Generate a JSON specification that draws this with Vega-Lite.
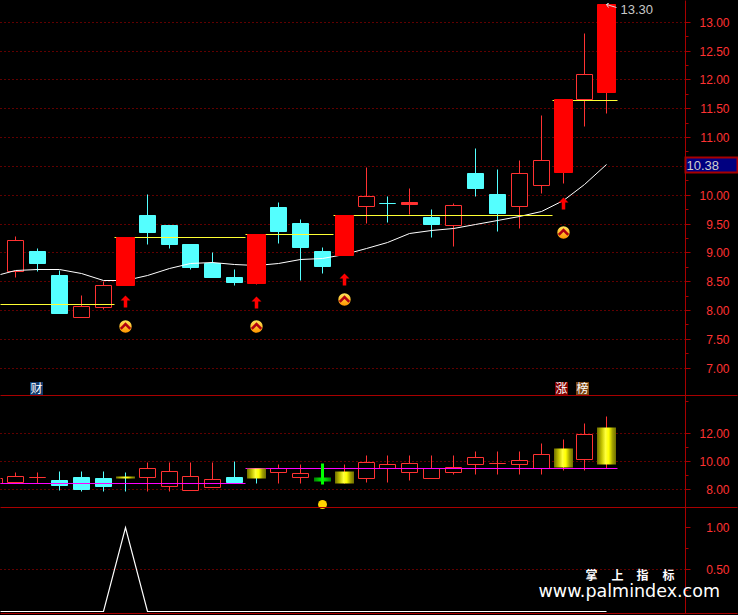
{"$schema":"https://vega.github.io/schema/vega-lite/v6.json","background":"#000000","padding":{"left":-2.5,"top":0.5,"right":0,"bottom":1.5},"spacing":0,"bounds":"flush","config":{"view":{"stroke":null},"axis":{"translate":0}},
"datasets":{
"main":[
{"i":0,"high":9.28,"low":8.57,"top":9.21,"bot":8.68,"kind":"hollow","dir":"up"},
{"i":1,"high":9.07,"low":8.68,"top":9.02,"bot":8.82,"kind":"cyan","dir":"down"},
{"i":2,"high":8.69,"low":7.95,"top":8.61,"bot":7.95,"kind":"cyan","dir":"down"},
{"i":3,"high":8.26,"low":7.88,"top":8.07,"bot":7.88,"kind":"hollow","dir":"up"},
{"i":4,"high":8.5,"low":8.02,"top":8.43,"bot":8.06,"kind":"hollow","dir":"up"},
{"i":5,"high":9.27,"low":8.43,"top":9.27,"bot":8.43,"kind":"solid","dir":"up"},
{"i":6,"high":10.01,"low":9.15,"top":9.65,"bot":9.35,"kind":"cyan","dir":"down"},
{"i":7,"high":9.47,"low":9.08,"top":9.47,"bot":9.15,"kind":"cyan","dir":"down"},
{"i":8,"high":9.15,"low":8.71,"top":9.15,"bot":8.75,"kind":"cyan","dir":"down"},
{"i":9,"high":9.01,"low":8.57,"top":8.82,"bot":8.57,"kind":"cyan","dir":"down"},
{"i":10,"high":8.71,"low":8.43,"top":8.57,"bot":8.49,"kind":"cyan","dir":"down"},
{"i":11,"high":9.32,"low":8.45,"top":9.32,"bot":8.47,"kind":"solid","dir":"up"},
{"i":12,"high":9.87,"low":9.16,"top":9.79,"bot":9.37,"kind":"cyan","dir":"down"},
{"i":13,"high":9.58,"low":8.52,"top":9.51,"bot":9.09,"kind":"cyan","dir":"down"},
{"i":14,"high":9.09,"low":8.64,"top":9.02,"bot":8.76,"kind":"cyan","dir":"down"},
{"i":15,"high":9.65,"low":8.95,"top":9.65,"bot":8.95,"kind":"solid","dir":"up"},
{"i":16,"high":10.48,"low":9.51,"top":9.97,"bot":9.81,"kind":"hollow","dir":"up"},
{"i":17,"high":9.98,"low":9.53,"top":9.85,"bot":9.85,"kind":"cyan","dir":"down"},
{"i":18,"high":10.12,"low":9.67,"top":9.87,"bot":9.84,"kind":"thin","dir":"up"},
{"i":19,"high":9.75,"low":9.27,"top":9.61,"bot":9.49,"kind":"cyan","dir":"down"},
{"i":20,"high":9.86,"low":9.11,"top":9.83,"bot":9.48,"kind":"hollow","dir":"up"},
{"i":21,"high":10.81,"low":9.98,"top":10.38,"bot":10.12,"kind":"cyan","dir":"down"},
{"i":22,"high":10.45,"low":9.37,"top":10.01,"bot":9.68,"kind":"cyan","dir":"down"},
{"i":23,"high":10.6,"low":9.42,"top":10.37,"bot":9.81,"kind":"hollow","dir":"up"},
{"i":24,"high":11.38,"low":10.03,"top":10.6,"bot":10.17,"kind":"hollow","dir":"up"},
{"i":25,"high":11.66,"low":10.2,"top":11.66,"bot":10.39,"kind":"solid","dir":"up"},
{"i":26,"high":12.8,"low":11.19,"top":12.09,"bot":11.66,"kind":"hollow","dir":"up"},
{"i":27,"high":13.3,"low":11.42,"top":13.3,"bot":11.78,"kind":"solid","dir":"up"}],
"ma":[{"i":-0.72,"v":8.63},{"i":0,"v":8.69},{"i":1,"v":8.71},{"i":2,"v":8.72},{"i":3,"v":8.65},{"i":4,"v":8.52},{"i":5,"v":8.52},{"i":6,"v":8.6},{"i":7,"v":8.73},{"i":8,"v":8.81},{"i":9,"v":8.83},{"i":10,"v":8.79},{"i":11,"v":8.78},{"i":12,"v":8.81},{"i":13,"v":8.88},{"i":14,"v":8.91},{"i":15,"v":8.97},{"i":16,"v":9.07},{"i":17,"v":9.18},{"i":18,"v":9.33},{"i":19,"v":9.39},{"i":20,"v":9.43},{"i":21,"v":9.49},{"i":22,"v":9.56},{"i":23,"v":9.63},{"i":24,"v":9.72},{"i":25,"v":9.91},{"i":26,"v":10.18},{"i":27,"v":10.54}],
"levels":[{"a":-0.72,"b":4.5,"v":8.1},{"a":4.5,"b":10.5,"v":9.26},{"a":10.5,"b":14.5,"v":9.31},{"a":14.5,"b":24.5,"v":9.65},{"a":24.5,"b":27.5,"v":11.65}],
"signals":[{"i":5,"arrow":8.16,"ball":7.72},{"i":11,"arrow":8.14,"ball":7.72},{"i":15,"arrow":8.54,"ball":8.19},{"i":25,"arrow":9.86,"ball":9.35}],
"badges":[{"i":0.968,"p":6.657,"label":"财","tag":"a"},{"i":24.95,"p":6.657,"label":"涨","tag":"b"},{"i":25.91,"p":6.657,"label":"榜","tag":"c"}],
"pointer":[{"n":1,"i":27.43,"p":13.25},{"n":2,"i":26.97,"p":13.3},{"n":3,"i":27.1,"p":13.324},{"n":4,"i":26.97,"p":13.3},{"n":5,"i":27.08,"p":13.255}],
"vol":[
{"i":0,"high":9.24,"low":8.45,"top":8.95,"bot":8.52,"kind":"hollow","dir":"up"},
{"i":1,"high":9.24,"low":8.45,"top":8.86,"bot":8.86,"kind":"hollow","dir":"up"},
{"i":2,"high":9.31,"low":7.95,"top":8.67,"bot":8.31,"kind":"cyan","dir":"down"},
{"i":3,"high":9.31,"low":7.88,"top":8.88,"bot":8.02,"kind":"cyan","dir":"down"},
{"i":4,"high":9.31,"low":7.88,"top":8.81,"bot":8.24,"kind":"cyan","dir":"down"},
{"i":5,"high":9.24,"low":7.88,"top":8.95,"bot":8.81,"kind":"gold","dir":"down"},
{"i":6,"high":9.95,"low":7.88,"top":9.52,"bot":8.88,"kind":"hollow","dir":"up"},
{"i":7,"high":9.95,"low":7.88,"top":9.31,"bot":8.24,"kind":"hollow","dir":"up"},
{"i":8,"high":9.95,"low":7.95,"top":8.95,"bot":7.95,"kind":"hollow","dir":"up"},
{"i":9,"high":9.95,"low":8.17,"top":8.74,"bot":8.17,"kind":"hollow","dir":"up"},
{"i":10,"high":10.02,"low":8.45,"top":8.88,"bot":8.52,"kind":"cyan","dir":"down"},
{"i":11,"high":9.52,"low":8.45,"top":9.52,"bot":8.81,"kind":"gold","dir":"down"},
{"i":12,"high":9.81,"low":8.45,"top":9.52,"bot":9.24,"kind":"hollow","dir":"up"},
{"i":13,"high":9.81,"low":8.45,"top":9.17,"bot":8.88,"kind":"hollow","dir":"up"},
{"i":14,"high":9.88,"low":8.38,"top":8.88,"bot":8.6,"kind":"green","dir":"flat"},
{"i":15,"high":9.81,"low":8.45,"top":9.31,"bot":8.45,"kind":"gold","dir":"up"},
{"i":16,"high":10.45,"low":8.52,"top":9.95,"bot":8.83,"kind":"hollow","dir":"up"},
{"i":17,"high":10.45,"low":8.52,"top":9.81,"bot":9.52,"kind":"hollow","dir":"up"},
{"i":18,"high":10.45,"low":8.67,"top":9.88,"bot":9.26,"kind":"hollow","dir":"up"},
{"i":19,"high":10.45,"low":8.81,"top":9.5,"bot":8.83,"kind":"hollow","dir":"up"},
{"i":20,"high":10.45,"low":9.1,"top":9.6,"bot":9.26,"kind":"hollow","dir":"up"},
{"i":21,"high":10.74,"low":9.1,"top":10.31,"bot":9.83,"kind":"hollow","dir":"up"},
{"i":22,"high":10.74,"low":9.1,"top":9.86,"bot":9.86,"kind":"hollow","dir":"up"},
{"i":23,"high":10.74,"low":9.1,"top":10.1,"bot":9.83,"kind":"hollow","dir":"up"},
{"i":24,"high":11.31,"low":9.1,"top":10.52,"bot":9.5,"kind":"hollow","dir":"up"},
{"i":25,"high":11.6,"low":9.4,"top":10.95,"bot":9.6,"kind":"gold","dir":"up"},
{"i":26,"high":12.74,"low":9.4,"top":11.95,"bot":10.19,"kind":"hollow","dir":"up"},
{"i":27,"high":13.24,"low":9.52,"top":12.45,"bot":9.81,"kind":"gold","dir":"up"}],
"stub":[{"a":-0.72,"b":-0.62,"v":8.81},{"a":-0.72,"b":-0.62,"v":8.45}],
"mag":[{"a":-0.72,"b":10.5,"v":8.43},{"a":10.5,"b":27.5,"v":9.5}],
"osc":[{"i":-0.72,"v":0},{"i":0,"v":0},{"i":1,"v":0},{"i":2,"v":0},{"i":3,"v":0},{"i":4,"v":0},{"i":5,"v":1},{"i":6,"v":0},{"i":7,"v":0},{"i":8,"v":0},{"i":9,"v":0},{"i":10,"v":0},{"i":11,"v":0},{"i":12,"v":0},{"i":13,"v":0},{"i":14,"v":0},{"i":15,"v":0},{"i":16,"v":0},{"i":17,"v":0},{"i":18,"v":0},{"i":19,"v":0},{"i":20,"v":0},{"i":21,"v":0},{"i":22,"v":0},{"i":23,"v":0},{"i":24,"v":0},{"i":25,"v":0},{"i":26,"v":0},{"i":27,"v":0}]
},
"vconcat":[
{"width":686,"height":395,"layer":[
{"data":{"name":"main"},"mark":{"type":"rule","strokeWidth":1},"encoding":{"x":{"field":"i","type":"quantitative","axis":null,"scale":{"domain":[-0.745,30.595],"nice":false,"zero":false,"round":true,"padding":0}},"y":{"field":"high","type":"quantitative","scale":{"domain":[6.527,13.376],"nice":false,"zero":false,"round":true},"axis":{"orient":"right","title":null,"tickCount":100,"values":[7,7.25,7.5,7.75,8,8.25,8.5,8.75,9,9.25,9.5,9.75,10,10.25,10.5,10.75,11,11.25,11.5,11.75,12,12.25,12.5,12.75,13],"grid":true,"gridColor":"#c00000","gridDash":[1,3],"gridOpacity":{"condition":{"test":"datum.value*2%1==0","value":1},"value":0},"tickColor":"#a80000","tickSize":{"condition":{"test":"datum.value*2%1==0","value":5},"value":3},"domainColor":"#a80000","labelColor":"#ff3232","labelFont":"Liberation Sans","labelFontSize":12,"labelAlign":"right","labelPadding":39,"labelOverlap":false,"labelBound":false,"labelFlush":false,"labelExpr":"datum.value*2%1==0&&datum.value!=10.5?format(datum.value,'.2f'):''","minExtent":52,"maxExtent":52}},"y2":{"field":"low"},"color":{"field":"dir","type":"nominal","legend":null,"scale":{"domain":["up","down"],"range":["#ff3232","#54ffff"]}}}},
{"data":{"name":"main"},"transform":[{"filter":"datum.kind==='hollow'"}],"mark":{"type":"bar","orient":"vertical","size":16,"fill":"#000000","stroke":"#ff3232","strokeWidth":1},"encoding":{"x":{"field":"i","type":"quantitative"},"y":{"field":"top","type":"quantitative"},"y2":{"field":"bot"}}},
{"data":{"name":"main"},"transform":[{"filter":"datum.kind==='thin'"}],"mark":{"type":"bar","orient":"vertical","size":16,"fill":"#ff3232","stroke":"#ff3232","strokeWidth":1},"encoding":{"x":{"field":"i","type":"quantitative"},"y":{"field":"top","type":"quantitative"},"y2":{"field":"bot"}}},
{"data":{"name":"main"},"transform":[{"filter":"datum.kind==='cyan'"}],"mark":{"type":"bar","orient":"vertical","size":16,"fill":"#54ffff","stroke":"#54ffff","strokeWidth":1},"encoding":{"x":{"field":"i","type":"quantitative"},"y":{"field":"top","type":"quantitative"},"y2":{"field":"bot"}}},
{"data":{"name":"ma"},"mark":{"type":"line","color":"#ffffff","strokeWidth":1},"encoding":{"x":{"field":"i","type":"quantitative"},"y":{"field":"v","type":"quantitative"}}},
{"data":{"name":"levels"},"mark":{"type":"rule","color":"#ffff33","strokeWidth":1},"encoding":{"x":{"field":"a","type":"quantitative"},"x2":{"field":"b"},"y":{"field":"v","type":"quantitative"}}},
{"data":{"name":"main"},"transform":[{"filter":"datum.kind==='solid'"}],"mark":{"type":"bar","orient":"vertical","size":18,"fill":"#ff0000","stroke":"#ff0000","strokeWidth":1},"encoding":{"x":{"field":"i","type":"quantitative"},"y":{"field":"top","type":"quantitative"},"y2":{"field":"bot"}}},
{"data":{"name":"signals"},"mark":{"type":"point","filled":true,"fill":"#ff0000","opacity":1,"shape":"M0,-1.2L1,-0.2L0.35,-0.2L0.35,1.2L-0.35,1.2L-0.35,-0.2L-1,-0.2Z","size":100},"encoding":{"x":{"field":"i","type":"quantitative"},"y":{"field":"arrow","type":"quantitative"}}},
{"data":{"name":"signals"},"mark":{"type":"point","filled":true,"opacity":1,"shape":"circle","size":154,"fill":{"gradient":"linear","x1":0,"y1":0,"x2":0,"y2":1,"stops":[{"offset":0,"color":"#ffe45a"},{"offset":1,"color":"#ff9600"}]}},"encoding":{"x":{"field":"i","type":"quantitative"},"y":{"field":"ball","type":"quantitative"}}},
{"data":{"name":"signals"},"mark":{"type":"point","filled":false,"opacity":1,"shape":"M-1,0.5L0,-0.5L1,0.5","size":90,"stroke":"#b00010","strokeWidth":2.5},"encoding":{"x":{"field":"i","type":"quantitative"},"y":{"field":"ball","type":"quantitative"}}},
{"data":{"name":"pointer"},"mark":{"type":"line","color":"#d8d8d8","strokeWidth":1},"encoding":{"x":{"field":"i","type":"quantitative"},"y":{"field":"p","type":"quantitative"},"order":{"field":"n"}}},
{"data":{"values":[{"i":27,"p":13.3,"t":"13.30"}]},"mark":{"type":"text","align":"left","baseline":"middle","dx":14,"dy":5,"color":"#c8c8c8","font":"Liberation Sans","fontSize":13},"encoding":{"x":{"field":"i","type":"quantitative"},"y":{"field":"p","type":"quantitative"},"text":{"field":"t"}}},
{"data":{"values":[{"a":30.595,"b":32.97,"lo":10.4,"hi":10.654}]},"mark":{"type":"rect","fill":"#000080","stroke":"#a80000","strokeWidth":2},"encoding":{"x":{"field":"a","type":"quantitative"},"x2":{"field":"b"},"y":{"field":"lo","type":"quantitative"},"y2":{"field":"hi"}}},
{"data":{"values":[{"i":30.64,"p":10.515,"t":"10.38"}]},"mark":{"type":"text","align":"left","baseline":"middle","color":"#d0d0d0","font":"Liberation Sans","fontSize":13},"encoding":{"x":{"field":"i","type":"quantitative"},"y":{"field":"p","type":"quantitative"},"text":{"field":"t"}}},
{"data":{"name":"badges"},"mark":{"type":"point","filled":true,"opacity":1,"shape":"square","size":169},"encoding":{"x":{"field":"i","type":"quantitative"},"y":{"field":"p","type":"quantitative"},"color":{"field":"tag","type":"nominal","legend":null,"scale":{"domain":["a","b","c"],"range":["#103a6c","#800000","#7a4410"]}}}},
{"data":{"name":"badges"},"mark":{"type":"text","align":"center","baseline":"middle","color":"#ffffff","font":"Noto Sans CJK SC","fontSize":12},"encoding":{"x":{"field":"i","type":"quantitative"},"y":{"field":"p","type":"quantitative"},"text":{"field":"label"}}},
{"data":{"values":[{"a":-0.72,"b":32.97,"v":6.527}]},"mark":{"type":"rule","color":"#a80000","strokeWidth":1},"encoding":{"x":{"field":"a","type":"quantitative"},"x2":{"field":"b"},"y":{"field":"v","type":"quantitative"}}}
],"resolve":{"scale":{"color":"independent"}}},
{"width":686,"height":112,"layer":[
{"data":{"name":"vol"},"transform":[{"filter":"datum.kind!=='green'"}],"mark":{"type":"rule","strokeWidth":1},"encoding":{"x":{"field":"i","type":"quantitative","axis":null,"scale":{"domain":[-0.745,30.595],"nice":false,"zero":false,"round":true,"padding":0}},"y":{"field":"high","type":"quantitative","scale":{"domain":[6.736,14.736],"nice":false,"zero":false,"round":true},"axis":{"orient":"right","title":null,"tickCount":100,"values":[8,9,10,11,12,14.33],"grid":true,"gridColor":"#c00000","gridDash":[1,3],"gridOpacity":{"condition":{"test":"datum.value%2==0","value":1},"value":0},"tickColor":"#a80000","tickSize":{"condition":{"test":"datum.value%2==0","value":5},"value":3},"domainColor":"#a80000","labelColor":"#ff3232","labelFont":"Liberation Sans","labelFontSize":12,"labelAlign":"right","labelPadding":39,"labelOverlap":false,"labelBound":false,"labelFlush":false,"labelExpr":"datum.value%2==0?format(datum.value,'.2f'):''","minExtent":52,"maxExtent":52}},"y2":{"field":"low"},"color":{"field":"dir","type":"nominal","legend":null,"scale":{"domain":["up","down"],"range":["#ff3232","#54ffff"]}}}},
{"data":{"name":"stub"},"mark":{"type":"rule","strokeWidth":1,"color":"#ff3232"},"encoding":{"x":{"field":"a","type":"quantitative"},"x2":{"field":"b"},"y":{"field":"v","type":"quantitative"}}},
{"data":{"values":[{"a":-0.62,"lo":8.45,"hi":8.81}]},"mark":{"type":"rule","strokeWidth":1,"color":"#ff3232"},"encoding":{"x":{"field":"a","type":"quantitative"},"y":{"field":"lo","type":"quantitative"},"y2":{"field":"hi"}}},
{"data":{"name":"vol"},"transform":[{"filter":"datum.kind==='hollow'"}],"mark":{"type":"bar","orient":"vertical","size":16,"fill":"#000000","stroke":"#ff3232","strokeWidth":1},"encoding":{"x":{"field":"i","type":"quantitative"},"y":{"field":"top","type":"quantitative"},"y2":{"field":"bot"}}},
{"data":{"name":"vol"},"transform":[{"filter":"datum.kind==='cyan'"}],"mark":{"type":"bar","orient":"vertical","size":16,"fill":"#54ffff","stroke":"#54ffff","strokeWidth":1},"encoding":{"x":{"field":"i","type":"quantitative"},"y":{"field":"top","type":"quantitative"},"y2":{"field":"bot"}}},
{"data":{"name":"mag"},"mark":{"type":"rule","color":"#ff00ff","strokeWidth":1},"encoding":{"x":{"field":"a","type":"quantitative"},"x2":{"field":"b"},"y":{"field":"v","type":"quantitative"}}},
{"data":{"name":"vol"},"transform":[{"filter":"datum.kind==='gold'"}],"mark":{"type":"bar","orient":"vertical","size":19,"fill":{"gradient":"linear","x1":0,"y1":0,"x2":1,"y2":0,"stops":[{"offset":0,"color":"#6e6e00"},{"offset":0.25,"color":"#c4c400"},{"offset":0.45,"color":"#ffff3a"},{"offset":0.62,"color":"#ffff00"},{"offset":0.82,"color":"#a0a000"},{"offset":1,"color":"#6e6e00"}]}},"encoding":{"x":{"field":"i","type":"quantitative"},"y":{"field":"top","type":"quantitative"},"y2":{"field":"bot"}}},
{"data":{"name":"vol"},"transform":[{"filter":"datum.kind==='green'"}],"mark":{"type":"rule","strokeWidth":3,"color":"#00ff00"},"encoding":{"x":{"field":"i","type":"quantitative"},"y":{"field":"high","type":"quantitative"},"y2":{"field":"low"}}},
{"data":{"name":"vol"},"transform":[{"filter":"datum.kind==='green'"}],"mark":{"type":"bar","orient":"vertical","size":17,"fill":{"gradient":"linear","x1":0,"y1":0,"x2":1,"y2":0,"stops":[{"offset":0,"color":"#008000"},{"offset":0.5,"color":"#00ff00"},{"offset":1,"color":"#008000"}]}},"encoding":{"x":{"field":"i","type":"quantitative"},"y":{"field":"top","type":"quantitative"},"y2":{"field":"bot"}}},
{"data":{"values":[{"i":14,"p":6.95}]},"mark":{"type":"point","filled":true,"opacity":1,"shape":"circle","size":80,"fill":"#ffd400"},"encoding":{"x":{"field":"i","type":"quantitative"},"y":{"field":"p","type":"quantitative"}}},
{"data":{"values":[{"a":-0.72,"b":32.97,"v":6.736}]},"mark":{"type":"rule","color":"#a80000","strokeWidth":1},"encoding":{"x":{"field":"a","type":"quantitative"},"x2":{"field":"b"},"y":{"field":"v","type":"quantitative"}}}
]},
{"width":686,"height":106,"layer":[
{"data":{"name":"osc"},"mark":{"type":"line","color":"#ffffff","strokeWidth":1.2},"encoding":{"x":{"field":"i","type":"quantitative","axis":null,"scale":{"domain":[-0.745,30.595],"nice":false,"zero":false,"round":true,"padding":0}},"y":{"field":"v","type":"quantitative","scale":{"domain":[-0.02,1.242],"nice":false,"zero":false,"round":true},"axis":{"orient":"right","title":null,"tickCount":100,"values":[0.25,0.5,0.75,1],"grid":true,"gridColor":"#c00000","gridDash":[1,3],"gridOpacity":{"condition":{"test":"datum.value==0.5","value":1},"value":0},"tickColor":"#a80000","tickSize":{"condition":{"test":"datum.value*2%1==0","value":5},"value":3},"domainColor":"#a80000","labelColor":"#ff3232","labelFont":"Liberation Sans","labelFontSize":12,"labelAlign":"right","labelPadding":39,"labelOverlap":false,"labelBound":false,"labelFlush":false,"labelExpr":"datum.value*2%1==0?format(datum.value,'.2f'):''","minExtent":52,"maxExtent":52}}}},
{"data":{"values":[{"i":26.3,"v":0.432,"t":"掌"},{"i":27.51,"v":0.432,"t":"上"},{"i":28.63,"v":0.432,"t":"指"},{"i":29.82,"v":0.432,"t":"标"}]},"mark":{"type":"text","align":"center","baseline":"middle","color":"#ffffff","font":"Noto Sans CJK SC","fontSize":12,"fontWeight":"bold"},"encoding":{"x":{"field":"i","type":"quantitative"},"y":{"field":"v","type":"quantitative"},"text":{"field":"t"}}},
{"data":{"values":[{"i":23.88,"v":0.182,"t":"www.palmindex.com"}]},"mark":{"type":"text","align":"left","baseline":"alphabetic","color":"#ffffff","font":"DejaVu Sans","fontSize":17.5},"encoding":{"x":{"field":"i","type":"quantitative"},"y":{"field":"v","type":"quantitative"},"text":{"field":"t"}}},
{"data":{"values":[{"a":-0.72,"b":32.97,"v":-0.02}]},"mark":{"type":"rule","color":"#a80000","strokeWidth":1},"encoding":{"x":{"field":"a","type":"quantitative"},"x2":{"field":"b"},"y":{"field":"v","type":"quantitative"}}}
]}
]}
